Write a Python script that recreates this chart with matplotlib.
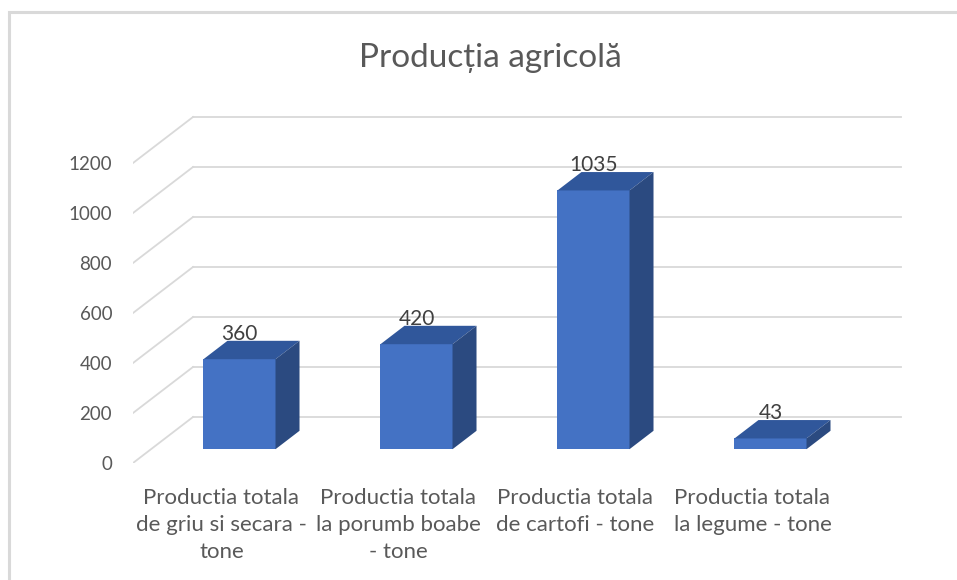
import matplotlib.pyplot as plt
from matplotlib.patches import Rectangle

categories = [
    'Productia totala\nde griu si secara -\ntone',
    'Productia totala\nla porumb boabe\n- tone',
    'Productia totala\nde cartofi - tone',
    'Productia totala\nla legume - tone',
]
values = [360, 420, 1035, 43]
yticks = [0, 200, 400, 600, 800, 1000, 1200]
title = 'Producția agricolă'

# oblique "3D" look: offsets for full depth, in data units
DX = 60 / 177
DY = 184
BAR_W = 0.407
D0, D1 = 0.3, 0.7

FRONT = '#4472C4'
TOP = '#30579B'
SIDE = '#2B4A80'
GRID = '#D9D9D9'
TEXT = '#595959'

plt.rcParams['font.family'] = ['Lato', 'DejaVu Sans']

W, H = 957, 580
fig = plt.figure(figsize=(W / 100, H / 100), dpi=100)

# chart area border (only top/left visible in the crop)
fig.patches.append(Rectangle((9 / W, -0.1), 2, 1.1 - 12 / H, transform=fig.transFigure,
                             fill=False, edgecolor=GRID, linewidth=2.2))

left, right, top, bottom = 133, 904.7, 113, 463
ax = fig.add_axes([left / W, (H - bottom) / H, (right - left) / W, (bottom - top) / H])
ax.set_xlim(0, 4.36)
ax.set_ylim(0, 1400)

# back wall and side wall gridlines
for v in yticks:
    ax.plot([DX, len(values) + DX], [v + DY, v + DY], color=GRID, lw=1.3, zorder=1)
    ax.plot([0, DX], [v, v + DY], color=GRID, lw=1.3, zorder=1)

for i, v in enumerate(values):
    c = i + 0.5
    x0 = c - BAR_W / 2 + D0 * DX
    x1 = c + BAR_W / 2 + D0 * DX
    y0 = D0 * DY
    y1 = v + D0 * DY
    ddx = (D1 - D0) * DX
    ddy = (D1 - D0) * DY
    ax.fill([x0, x1, x1, x0], [y0, y0, y1, y1], color=FRONT, zorder=3, lw=0)
    ax.fill([x0, x1, x1 + ddx, x0 + ddx], [y1, y1, y1 + ddy, y1 + ddy], color=TOP, zorder=3, lw=0)
    ax.fill([x1, x1 + ddx, x1 + ddx, x1], [y0, y0 + ddy, y1 + ddy, y1], color=SIDE, zorder=3, lw=0)
    ax.text((x0 + x1) / 2, y1 + ddy + 4, str(v), ha='center', va='baseline',
            fontsize=15, color='#404040', zorder=4)

ax.set_yticks(yticks)
ax.set_yticklabels([str(t) for t in yticks])
ax.set_xticks([i + 0.5 for i in range(len(values))])
ax.set_xticklabels(categories, linespacing=1.45)
ax.tick_params(axis='y', length=0, pad=15, labelsize=13.5, labelcolor=TEXT)
ax.tick_params(axis='x', length=0, pad=18, labelsize=16, labelcolor=TEXT)
for s in ax.spines.values():
    s.set_visible(False)
ax.set_facecolor('none')

fig.text(490 / W, 1 - 58 / H, title, ha='center', va='center', fontsize=24, color=TEXT)

fig.savefig('out.png', dpi=100)
